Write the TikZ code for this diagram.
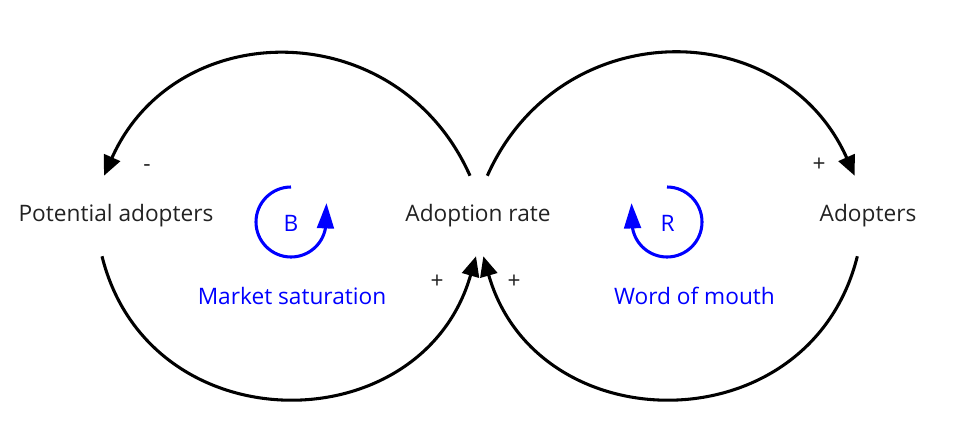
\documentclass[tikz,border=0pt]{standalone}
\usepackage{fontspec}
\setmainfont{Open Sans}
\usepackage{xcolor}
\usetikzlibrary{arrows.meta}
\definecolor{textgray}{HTML}{222222}
\definecolor{loopblue}{HTML}{0000FF}

\begin{document}
\begin{tikzpicture}[x = 0.75pt, y = 0.75pt,
    every node/.style = {font = \fontsize{17}{20}\selectfont,
                         text = textgray},
    varbox/.style     = {minimum height = 60pt, inner sep = 0pt},
    causal/.style     = {line width = 2.3pt,
      -{Triangle[length = 15pt, width = 13pt]}},
    loopArrow/.style  = {draw = loopblue, line width = 2.3pt,
      -{Triangle[length = 19pt, width = 12.5pt]}},
    polarity/.style   = {anchor = base},
    loopname/.style   = {text = loopblue},
    looplabel/.style  = {text = loopblue, anchor = base},
  ]
  \useasboundingbox (0,0) rectangle (960,437);

  \node[varbox] (potential) at (116,221) {Potential adopters};
  \node[varbox] (rate)      at (478,221) {Adoption rate};
  \node[varbox] (adopters)  at (868,221) {Adopters};

  \draw[causal] ([xshift=-6pt]rate.north) to[out=114, in=66, looseness=1.24]
    ([xshift=-9pt]potential.north);
  \draw[causal] ([xshift=7pt]rate.north) to[out=66, in=114, looseness=1.24]
    ([xshift=-10pt]adopters.north);
  \draw[causal] ([xshift=-10.5pt]potential.south) to[out=-76, in=-106, looseness=1.34]
    ([xshift=-1.5pt]rate.south);
  \draw[causal] ([xshift=-8pt]adopters.south) to[out=-104, in=-74, looseness=1.34]
    ([xshift=4pt]rate.south);

  \node[polarity] (signPot)   at (147,266) {-};
  \node[polarity] (signRateL) at (437,149) {+};
  \node[polarity] (signRateR) at (514,149) {+};
  \node[polarity] (signAdopt) at (819,266) {+};

  \node[loopname] (loopB) at (291,214) {B};
  \draw[loopArrow] (291,250) arc[start angle=90, end angle=350, radius=35] -- ++(1,25);
  \node[looplabel] (saturation) at (292,133) {Market saturation};

  \node[loopname] (loopR) at (667.5,214) {R};
  \draw[loopArrow] (667,250) arc[start angle=90, end angle=-170, radius=35] -- ++(-1,25);
  \node[looplabel] (mouth) at (694.5,133) {Word of mouth};
\end{tikzpicture}
\end{document}
